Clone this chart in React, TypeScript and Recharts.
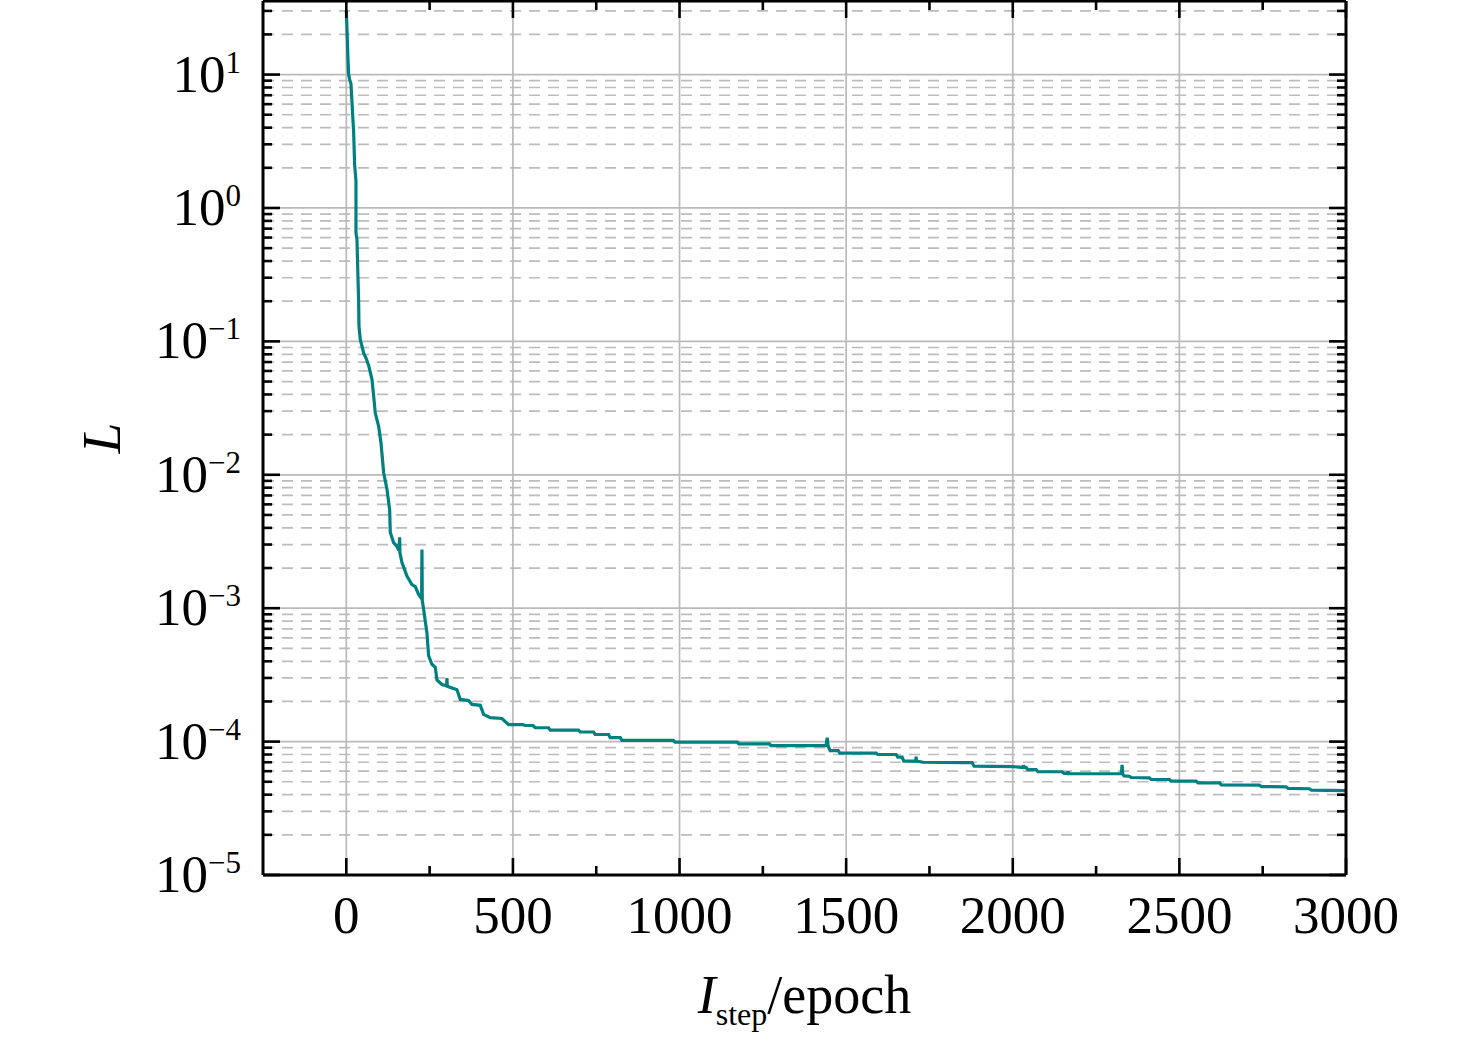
import React from 'react';
import { LineChart, Line, XAxis, YAxis, CartesianGrid } from 'recharts';

const epochs = [
  0, 2, 5, 7, 10, 14, 17, 22, 25, 29, 29, 32, 35, 37, 38, 42, 52, 60, 67, 77,
  82, 87, 97, 104, 112, 122, 130, 132, 142, 152, 158, 160, 161, 167, 182, 197, 207, 217, 226, 227,
  228, 232, 242, 247, 257, 267, 272, 287, 301, 302, 303, 332, 342, 367, 377, 402, 412, 432, 467, 487,
  530, 537, 560, 567, 607, 612, 697, 702, 742, 747, 787, 792, 822, 827, 981, 987, 1174, 1178, 1270, 1274,
  1440, 1443, 1446, 1452, 1476, 1481, 1590, 1595, 1650, 1655, 1668, 1673, 1709, 1710, 1711, 1731, 1851, 1878, 1884, 2001,
  2031, 2032, 2034, 2040, 2045, 2070, 2076, 2148, 2154, 2165, 2166, 2167, 2326, 2328, 2330, 2334, 2350, 2355, 2410, 2415,
  2470, 2475, 2550, 2556, 2620, 2626, 2740, 2746, 2820, 2826, 2890, 2896, 3000,
];

const losses = [
  30, 22, 13, 10, 9.2, 8.5, 6.2, 3.7, 2.1, 1.6, 0.65, 0.58, 0.3, 0.2, 0.13, 0.103, 0.082, 0.074, 0.066, 0.052,
  0.039, 0.029, 0.0231, 0.0174, 0.0104, 0.0078, 0.0055, 0.0037, 0.0031, 0.0029, 0.0027, 0.0034, 0.0026, 0.0022, 0.00174, 0.0015, 0.00145, 0.00127, 0.00118, 0.00275,
  0.00114, 0.00098, 0.00065, 0.00044, 0.00038, 0.00036, 0.00029, 0.000268, 0.000262, 0.0003, 0.00026, 0.000245, 0.000207, 0.000203, 0.00019, 0.000187, 0.00016, 0.000151, 0.000149, 0.000134,
  0.000134, 0.000132, 0.000132, 0.000127, 0.000127, 0.000122, 0.000122, 0.000118, 0.000118, 0.000113, 0.000113, 0.000107, 0.000107, 0.000102, 0.000102, 0.000099, 0.000099, 0.000096, 0.000096, 0.0000934,
  0.0000934, 0.000107, 0.000092, 0.0000857, 0.0000857, 0.000082, 0.000082, 0.00008, 0.00008, 0.0000764, 0.0000764, 0.0000713, 0.0000713, 0.000077, 0.0000713, 0.00007, 0.0000695, 0.0000695, 0.0000654, 0.000065,
  0.000064, 0.0000665, 0.000064, 0.000064, 0.0000617, 0.0000617, 0.0000594, 0.0000594, 0.0000577, 0.0000577, 0.00006, 0.0000574, 0.0000574, 0.000067, 0.000057, 0.0000553, 0.000055, 0.0000538, 0.0000535, 0.000052,
  0.000052, 0.0000505, 0.0000505, 0.000049, 0.000049, 0.0000473, 0.0000471, 0.000046, 0.0000458, 0.0000446, 0.0000443, 0.0000433, 0.0000429,
];

const data = epochs.map((e, i) => ({ epoch: e, loss: losses[i] }));

const xMajorTicks = [0, 500, 1000, 1500, 2000, 2500, 3000];
const xMinorTicks = [250, 750, 1250, 1750, 2250, 2750];
const xDomain = [-250, 3000];

const yExponents = [-5, -4, -3, -2, -1, 0, 1];
const yExponentLabels = ['\u22125', '\u22124', '\u22123', '\u22122', '\u22121', '0', '1'];
const yMinorMultipliers = [2, 3, 4, 5, 6, 7, 8, 9];
const Y_MIN = 1e-5;
const Y_MAX = 35.6;

const yMajor = yExponents.map((e) => Number(`1e${e}`));
const yMinor = yExponents
  .flatMap((e) => yMinorMultipliers.map((m) => Number(`${m}e${e}`)))
  .filter((v) => v <= Y_MAX);
const yAllTicks = [...yMajor, ...yMinor].sort((a, b) => a - b);
const xAllTicks = [...xMajorTicks, ...xMinorTicks].sort((a, b) => a - b);

const FONT = '"Liberation Serif", "Times New Roman", Times, serif';
const TICK_W = 2.6;
const MAJ = 17;
const MIN = 9;

const LeftTick = (props: any) => {
  const { x, y, payload } = props;
  const i = yMajor.indexOf(payload.value);
  const major = i >= 0;
  return (
    <g>
      <line x1={x} x2={x + (major ? MAJ : MIN)} y1={y} y2={y} stroke="#000" strokeWidth={TICK_W} />
      {major && (
        <text x={x - 22} y={y + 17} textAnchor="end" fontFamily={FONT} fontSize={53} fill="#000">
          <tspan>10</tspan>
          <tspan dy={-19} fontSize={31}>{yExponentLabels[i]}</tspan>
        </text>
      )}
    </g>
  );
};

const RightTick = (props: any) => {
  const { x, y, payload } = props;
  const major = yMajor.indexOf(payload.value) >= 0;
  return <line x1={x} x2={x - (major ? MAJ : MIN)} y1={y} y2={y} stroke="#000" strokeWidth={TICK_W} />;
};

const BottomTick = (props: any) => {
  const { x, y, payload } = props;
  const major = xMajorTicks.includes(payload.value);
  return (
    <g>
      <line x1={x} x2={x} y1={y} y2={y - (major ? MAJ : MIN)} stroke="#000" strokeWidth={TICK_W} />
      {major && (
        <text x={x} y={y + 58} textAnchor="middle" fontFamily={FONT} fontSize={53} fill="#000">
          {payload.value}
        </text>
      )}
    </g>
  );
};

const TopTick = (props: any) => {
  const { x, y, payload } = props;
  const major = xMajorTicks.includes(payload.value);
  return <line x1={x} x2={x} y1={y} y2={y + (major ? MAJ : MIN)} stroke="#000" strokeWidth={TICK_W} />;
};

const YLabel = (props: any) => {
  const vb = props.viewBox || { x: 200, y: 1, width: 63, height: 874 };
  const cy = vb.y + vb.height / 2;
  const bx = vb.x + vb.width - 143;
  return (
    <text
      x={bx}
      y={cy}
      transform={`rotate(-90 ${bx} ${cy})`}
      textAnchor="middle"
      fontFamily={FONT}
      fontStyle="italic"
      fontSize={55}
      fill="#000"
    >
      L
    </text>
  );
};

const XLabel = (props: any) => {
  const vb = props.viewBox || { x: 263, y: 875, width: 1083, height: 69 };
  const cx = vb.x + vb.width / 2;
  const by = vb.y + 138;
  return (
    <text x={cx} y={by} textAnchor="middle" fontFamily={FONT} fontSize={54} fill="#000">
      <tspan fontStyle="italic">I</tspan>
      <tspan dy={12} fontSize={32}>step</tspan>
      <tspan dy={-12}>/epoch</tspan>
    </text>
  );
};

const axisLine = { stroke: '#000', strokeWidth: 3 };

export default function App() {
  return (
    <div style={{ position: 'absolute', left: 0, top: 0, width: 1476, height: 1042, background: '#fff' }}>
      <LineChart
        width={1476}
        height={1042}
        data={data}
        margin={{ top: 0, right: 120, bottom: 98, left: 200 }}
      >
        <CartesianGrid
          xAxisId={0}
          yAxisId={0}
          vertical={false}
          horizontalValues={yMinor}
          stroke="#bcbcbc"
          strokeWidth={1.7}
          strokeDasharray="11 8"
        />
        <CartesianGrid
          xAxisId={0}
          yAxisId={0}
          vertical={false}
          horizontalValues={yMajor}
          stroke="#bababa"
          strokeWidth={1.7}
        />
        <CartesianGrid
          xAxisId={0}
          yAxisId={0}
          horizontal={false}
          verticalValues={xMajorTicks}
          stroke="#bababa"
          strokeWidth={1.7}
        />
        <XAxis
          xAxisId={0}
          dataKey="epoch"
          type="number"
          domain={xDomain}
          allowDataOverflow
          ticks={xAllTicks}
          interval={0}
          tickSize={0}
          tickMargin={0}
          tickLine={false}
          tick={<BottomTick />}
          axisLine={axisLine}
          height={69}
          label={XLabel}
        />
        <XAxis
          xAxisId="top"
          orientation="top"
          dataKey="epoch"
          type="number"
          domain={xDomain}
          allowDataOverflow
          ticks={xAllTicks}
          interval={0}
          tickSize={0}
          tickMargin={0}
          tickLine={false}
          tick={<TopTick />}
          axisLine={axisLine}
          height={1}
        />
        <YAxis
          yAxisId={0}
          scale="log"
          type="number"
          domain={[Y_MIN, Y_MAX]}
          allowDataOverflow
          ticks={yAllTicks}
          interval={0}
          tickSize={0}
          tickMargin={0}
          tickLine={false}
          tick={<LeftTick />}
          axisLine={axisLine}
          width={63}
          label={YLabel}
        />
        <YAxis
          yAxisId="right"
          orientation="right"
          scale="log"
          type="number"
          domain={[Y_MIN, Y_MAX]}
          allowDataOverflow
          ticks={yAllTicks}
          interval={0}
          tickSize={0}
          tickMargin={0}
          tickLine={false}
          tick={<RightTick />}
          axisLine={axisLine}
          width={10}
        />
        <Line
          xAxisId={0}
          yAxisId={0}
          type="linear"
          dataKey="loss"
          stroke="#008080"
          strokeWidth={3.2}
          dot={false}
          activeDot={false}
          isAnimationActive={false}
        />
      </LineChart>
    </div>
  );
}
